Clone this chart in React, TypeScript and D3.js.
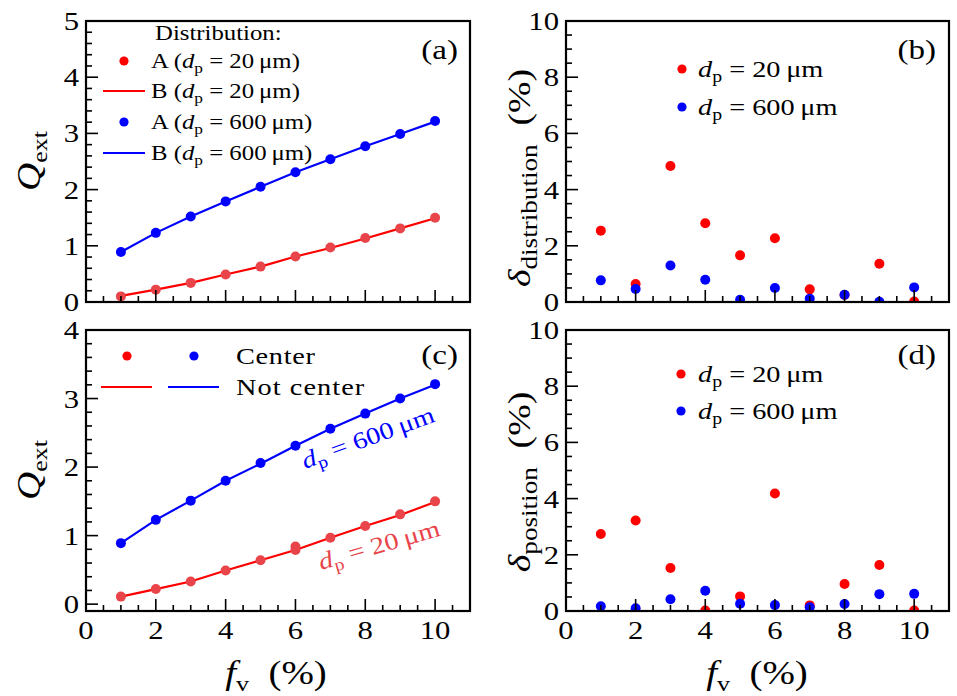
import React from "react";
import * as d3 from "d3";

// ---------- data ----------
const fv = [1, 2, 3, 4, 5, 6, 7, 8, 9, 10];

// panel (a): Q_ext, distributions A (points) and B (lines)
const aRedA = [0.1, 0.22, 0.34, 0.49, 0.63, 0.81, 0.97, 1.14, 1.31, 1.5];
const aRedB = [0.11, 0.22, 0.34, 0.49, 0.63, 0.81, 0.96, 1.13, 1.31, 1.49];
const aBlueA = [0.89, 1.23, 1.52, 1.79, 2.05, 2.31, 2.54, 2.77, 2.99, 3.22];
const aBlueB = [0.89, 1.23, 1.52, 1.79, 2.05, 2.31, 2.54, 2.77, 2.99, 3.21];

// panel (b): delta distribution (%)
const bRed = [2.54, 0.64, 4.84, 2.8, 1.66, 2.27, 0.45, 0.25, 1.36, 0.02];
const bBlue = [0.77, 0.46, 1.3, 0.79, 0.08, 0.5, 0.12, 0.26, 0.01, 0.52];

// panel (c): Q_ext, center (points) / not center (lines)
const cRedX = [1, 2, 3, 4, 5, 6, 6, 7, 8, 9, 10];
const cRedCenter = [0.11, 0.22, 0.33, 0.49, 0.64, 0.84, 0.79, 0.97, 1.14, 1.31, 1.5];
const cRedNot = [0.11, 0.22, 0.33, 0.49, 0.64, 0.79, 0.97, 1.14, 1.3, 1.49];
const cBlueCenter = [0.89, 1.23, 1.51, 1.8, 2.06, 2.31, 2.56, 2.78, 3.0, 3.21];
const cBlueNot = [0.89, 1.23, 1.51, 1.8, 2.05, 2.31, 2.56, 2.78, 3.0, 3.2];

// panel (d): delta position (%)
const dRed = [2.74, 3.22, 1.53, 0.02, 0.52, 4.18, 0.2, 0.96, 1.64, 0.02];
const dBlue = [0.17, 0.1, 0.42, 0.72, 0.26, 0.21, 0.13, 0.25, 0.6, 0.61];

// ticks
const xMajor = [0, 2, 4, 6, 8, 10];
const yMajorA = [0, 1, 2, 3, 4, 5];
const yMajorC = [0, 1, 2, 3, 4];
const yMajorBD = [0, 2, 4, 6, 8, 10];

// ---------- style ----------
const FONT = "'Liberation Serif', 'Times New Roman', serif";
const SX = 1.18;
const RED = "#ff0000";
const RED_PT = "#e8444a";
const BLUE = "#0000ff";
const R = 5;

type Sc = d3.ScaleLinear<number, number>;

function T({
  x,
  y,
  rot = 0,
  size,
  anchor = "start",
  fill = "#000",
  ls = 0,
  children,
}: {
  x: number;
  y: number;
  rot?: number;
  size: number;
  anchor?: string;
  fill?: string;
  ls?: number;
  children: React.ReactNode;
}) {
  return (
    <g transform={`translate(${x},${y}) rotate(${rot}) scale(${SX},1)`}>
      <text x={0} y={0} textAnchor={anchor} fontFamily={FONT} fontSize={size} fill={fill} letterSpacing={ls}>
        {children}
      </text>
    </g>
  );
}

function minorTicks(lo: number, hi: number, step: number, major: number[]) {
  return d3
    .range(lo, hi + 1e-9, step)
    .filter((v) => !major.some((m) => Math.abs(m - v) < 1e-6));
}

function Axes({ xs, ys, yMajor, yStep, showX }: { xs: Sc; ys: Sc; yMajor: number[]; yStep: number; showX: boolean }) {
  const [x0, x1] = xs.range();
  const [yb, yt] = ys.range();
  const yd = ys.domain();
  const xMin = minorTicks(0, 11, 0.5, xMajor);
  const yMin = minorTicks(Math.max(0, yd[0]), yd[1], yStep, yMajor);
  return (
    <g>
      {xMin.map((v) => (
        <line key={"xm" + v} x1={xs(v)} x2={xs(v)} y1={yb} y2={yb - 6} stroke="#000" strokeWidth={1.6} />
      ))}
      {xMajor.map((v) => (
        <line key={"xM" + v} x1={xs(v)} x2={xs(v)} y1={yb} y2={yb - 12} stroke="#000" strokeWidth={1.6} />
      ))}
      {yMin.map((v) => (
        <line key={"ym" + v} x1={x0} x2={x0 + 6} y1={ys(v)} y2={ys(v)} stroke="#000" strokeWidth={1.6} />
      ))}
      {yMajor.map((v) => (
        <line key={"yM" + v} x1={x0} x2={x0 + 12} y1={ys(v)} y2={ys(v)} stroke="#000" strokeWidth={1.6} />
      ))}
      <rect x={x0} y={yt} width={x1 - x0} height={yb - yt} fill="none" stroke="#000" strokeWidth={2.2} />
      {yMajor.map((v) => (
        <T key={"yl" + v} x={x0 - 7} y={ys(v) + 9} size={26} anchor="end">
          {v}
        </T>
      ))}
      {showX &&
        xMajor.map((v) => (
          <T key={"xl" + v} x={xs(v)} y={yb + 28} size={26} anchor="middle">
            {v}
          </T>
        ))}
    </g>
  );
}

function Dp({ val, size, prefix = "", suffix = "" }: { val: string; size: number; prefix?: string; suffix?: string }) {
  const s = size * 0.7;
  const off = size * 0.22;
  return (
    <>
      {prefix && <tspan>{prefix}</tspan>}
      <tspan fontStyle="italic">d</tspan>
      <tspan fontSize={s} dy={off}>p</tspan>
      <tspan dy={-off}>{"\u2005=\u2005" + val + "\u2009\u03bcm" + suffix}</tspan>
    </>
  );
}

function Dots({ xs, ys, xv, yv, color, clip }: { xs: Sc; ys: Sc; xv: number[]; yv: number[]; color: string; clip: string }) {
  return (
    <g clipPath={`url(#${clip})`}>
      {yv.map((v, i) => (
        <circle key={i} cx={xs(xv[i])} cy={ys(v)} r={R} fill={color} />
      ))}
    </g>
  );
}

function Line({ xs, ys, yv, color, clip }: { xs: Sc; ys: Sc; yv: number[]; color: string; clip: string }) {
  const gen = d3
    .line<number>()
    .x((_, i) => xs(fv[i]))
    .y((d) => ys(d));
  return <path d={gen(yv) || ""} fill="none" stroke={color} strokeWidth={2.2} clipPath={`url(#${clip})`} />;
}

export default function App() {
  const xL = d3.scaleLinear().domain([0, 11]).range([86, 470]);
  const xR = d3.scaleLinear().domain([0, 11]).range([566, 949]);
  const yA = d3.scaleLinear().domain([0, 5]).range([302, 21]);
  const yB = d3.scaleLinear().domain([0, 10]).range([302, 21]);
  const yC = d3.scaleLinear().domain([-0.1, 4]).range([611, 330]);
  const yD = d3.scaleLinear().domain([0, 10]).range([611, 330]);

  const clips = [
    { id: "ca", x: 86, y: 21, w: 384, h: 281 },
    { id: "cb", x: 566, y: 21, w: 383, h: 281 },
    { id: "cc", x: 86, y: 330, w: 384, h: 281 },
    { id: "cd", x: 566, y: 330, w: 383, h: 281 },
  ];

  return (
    <svg width={957} height={696} style={{ position: "absolute", left: 0, top: 0, background: "#fff" }}>
      <defs>
        {clips.map((c) => (
          <clipPath id={c.id} key={c.id}>
            <rect x={c.x} y={c.y} width={c.w} height={c.h} />
          </clipPath>
        ))}
      </defs>
      <rect x={0} y={0} width={957} height={696} fill="#fff" />

      {/* ----- panel (a) ----- */}
      <Line xs={xL} ys={yA} yv={aRedB} color={RED} clip="ca" />
      <Line xs={xL} ys={yA} yv={aBlueB} color={BLUE} clip="ca" />
      <Dots xs={xL} ys={yA} xv={fv} yv={aRedA} color={RED_PT} clip="ca" />
      <Dots xs={xL} ys={yA} xv={fv} yv={aBlueA} color={BLUE} clip="ca" />
      <Axes xs={xL} ys={yA} yMajor={yMajorA} yStep={0.2} showX={false} />
      <T x={155} y={40} size={21}>Distribution:</T>
      <circle cx={124} cy={61} r={4.6} fill={RED} />
      <T x={151} y={68} size={21}>
        <Dp val="20" size={21} prefix="A (" suffix=")" />
      </T>
      <line x1={103} x2={145} y1={91} y2={91} stroke={RED} strokeWidth={2.2} />
      <T x={151} y={98} size={21}>
        <Dp val="20" size={21} prefix="B (" suffix=")" />
      </T>
      <circle cx={124} cy={122} r={4.6} fill={BLUE} />
      <T x={151} y={129} size={21}>
        <Dp val="600" size={21} prefix="A (" suffix=")" />
      </T>
      <line x1={103} x2={145} y1={153} y2={153} stroke={BLUE} strokeWidth={2.2} />
      <T x={151} y={160} size={21}>
        <Dp val="600" size={21} prefix="B (" suffix=")" />
      </T>
      <T x={458} y={59} size={28} anchor="end">(a)</T>

      {/* ----- panel (b) ----- */}
      <Dots xs={xR} ys={yB} xv={fv} yv={bRed} color={RED} clip="cb" />
      <Dots xs={xR} ys={yB} xv={fv} yv={bBlue} color={BLUE} clip="cb" />
      <Axes xs={xR} ys={yB} yMajor={yMajorBD} yStep={0.5} showX={false} />
      <circle cx={682} cy={69} r={4.6} fill={RED} />
      <T x={698} y={77} size={24}>
        <Dp val="20" size={24} />
      </T>
      <circle cx={682} cy={107} r={4.6} fill={BLUE} />
      <T x={698} y={115} size={24}>
        <Dp val="600" size={24} />
      </T>
      <T x={936} y={59} size={28} anchor="end">(b)</T>

      {/* ----- panel (c) ----- */}
      <Line xs={xL} ys={yC} yv={cRedNot} color={RED} clip="cc" />
      <Line xs={xL} ys={yC} yv={cBlueNot} color={BLUE} clip="cc" />
      <Dots xs={xL} ys={yC} xv={cRedX} yv={cRedCenter} color={RED_PT} clip="cc" />
      <Dots xs={xL} ys={yC} xv={fv} yv={cBlueCenter} color={BLUE} clip="cc" />
      <Axes xs={xL} ys={yC} yMajor={yMajorC} yStep={0.2} showX={true} />
      <circle cx={127} cy={356} r={4.6} fill={RED} />
      <circle cx={194} cy={356} r={4.6} fill={BLUE} />
      <T x={236} y={364} size={24} ls={0.6}>Center</T>
      <line x1={101} x2={152} y1={387} y2={387} stroke={RED} strokeWidth={2.2} />
      <line x1={168} x2={219} y1={387} y2={387} stroke={BLUE} strokeWidth={2.2} />
      <T x={236} y={395} size={24} ls={0.9}>Not center</T>
      <T x={458} y={364} size={28} anchor="end">(c)</T>
      <T x={305} y={469} rot={-20} size={24} fill={BLUE}>
        <Dp val="600" size={24} />
      </T>
      <T x={321} y={570} rot={-16} size={24} fill={RED_PT}>
        <Dp val="20" size={24} />
      </T>

      {/* ----- panel (d) ----- */}
      <Dots xs={xR} ys={yD} xv={fv} yv={dRed} color={RED} clip="cd" />
      <Dots xs={xR} ys={yD} xv={fv} yv={dBlue} color={BLUE} clip="cd" />
      <Axes xs={xR} ys={yD} yMajor={yMajorBD} yStep={0.5} showX={true} />
      <circle cx={681} cy={374} r={4.6} fill={RED} />
      <T x={698} y={382} size={24}>
        <Dp val="20" size={24} />
      </T>
      <circle cx={681} cy={411} r={4.6} fill={BLUE} />
      <T x={698} y={419} size={24}>
        <Dp val="600" size={24} />
      </T>
      <T x={936} y={364} size={28} anchor="end">(d)</T>

      {/* ----- axis titles ----- */}
      {[161, 470].map((cy) => (
        <T key={cy} x={40} y={cy} rot={-90} size={33} anchor="middle">
          <tspan fontStyle="italic">Q</tspan>
          <tspan fontSize={22} dy={7}>ext</tspan>
        </T>
      ))}
      <T x={530} y={178} rot={-90} size={32} anchor="middle">
        <tspan fontStyle="italic">{"\u03b4"}</tspan>
        <tspan fontSize={23} dy={7}>distribution</tspan>
        <tspan dy={-7}>{"\u2002(%)"}</tspan>
      </T>
      <T x={530} y={482} rot={-90} size={32} anchor="middle">
        <tspan fontStyle="italic">{"\u03b4"}</tspan>
        <tspan fontSize={23} dy={7}>position</tspan>
        <tspan dy={-7}>{"\u2002(%)"}</tspan>
      </T>
      {[276, 757].map((cx) => (
        <T key={cx} x={cx} y={684} size={33} anchor="middle">
          <tspan fontStyle="italic">f</tspan>
          <tspan fontSize={22} dy={7}>v</tspan>
          <tspan dy={-7}>{"\u2002(%)"}</tspan>
        </T>
      ))}
    </svg>
  );
}
